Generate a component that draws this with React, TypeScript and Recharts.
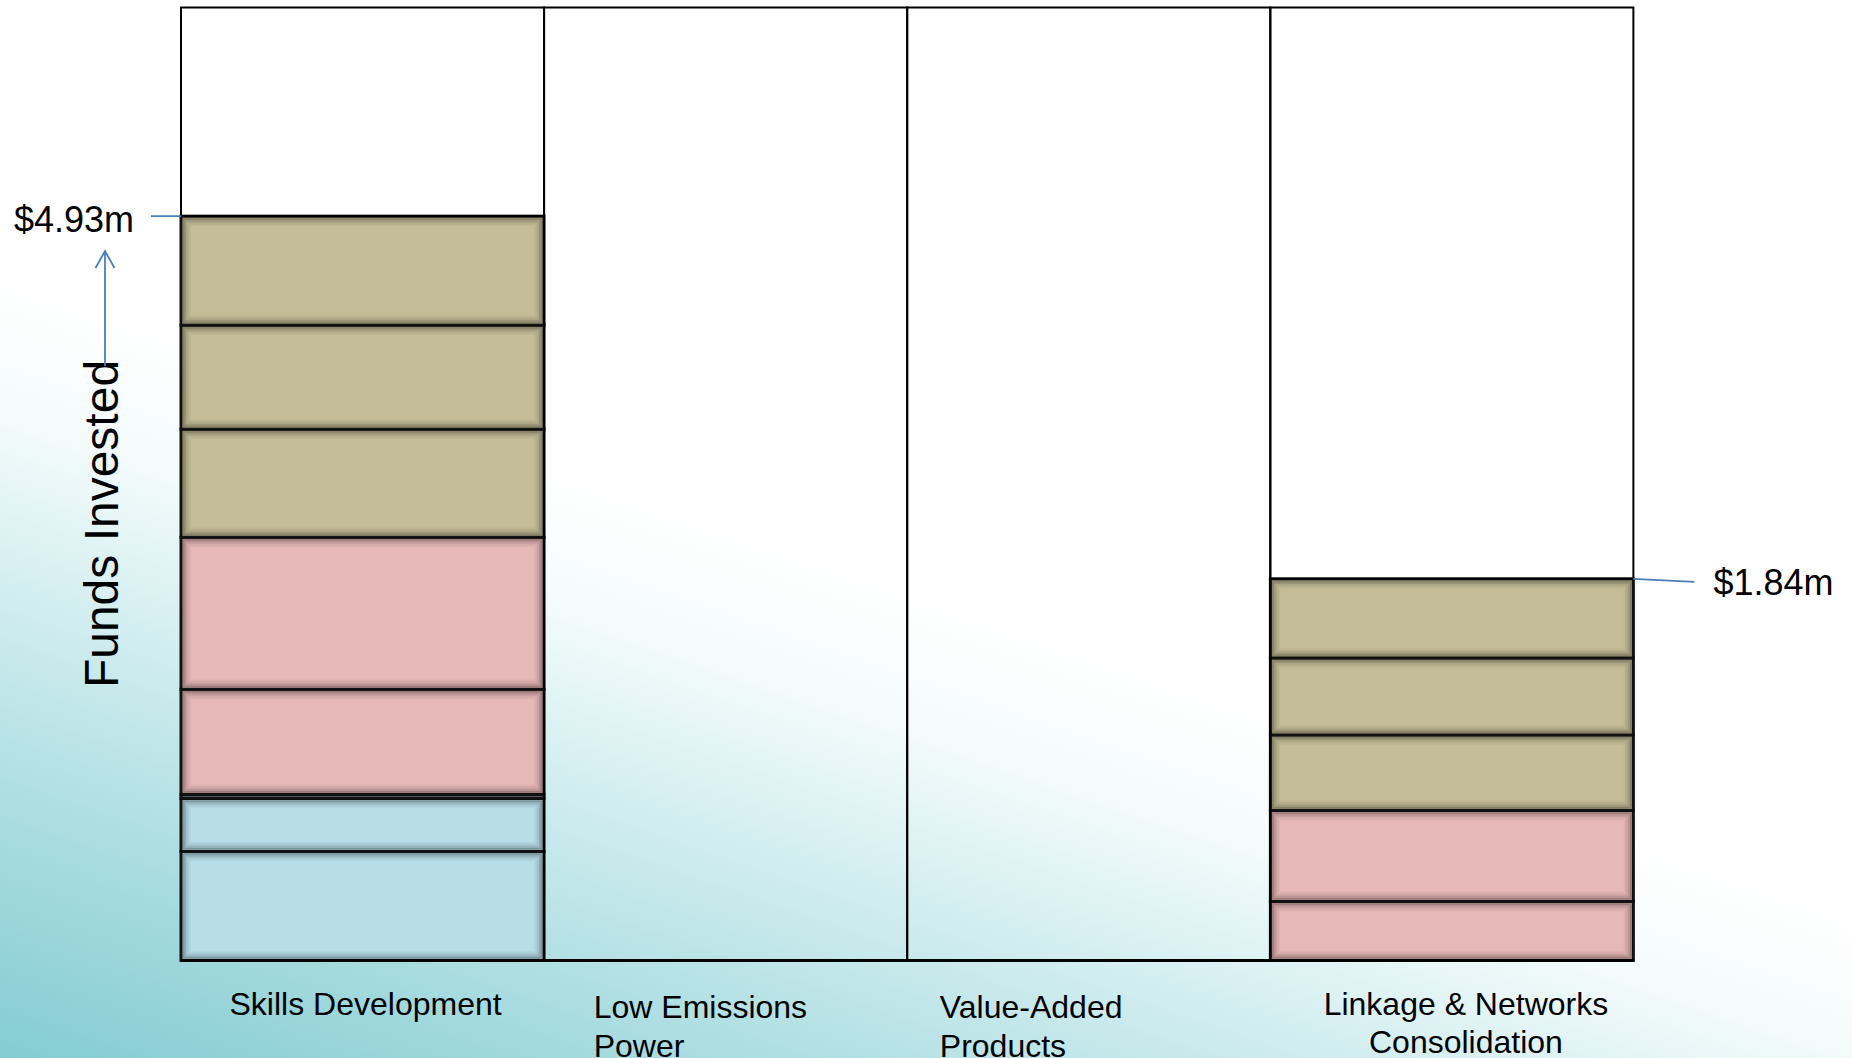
import { Bar, BarChart, LabelList, XAxis, YAxis } from "recharts";

// categories (line breaks are where the labels wrap in the picture)
const CATEGORIES = [
  "Skills Development",
  "Low Emissions\nPower",
  "Value-Added\nProducts",
  "Linkage & Networks\nConsolidation",
];

// stacked segments, bottom to top, in $m as drawn
const BLUE_LOWER = [0.722, 0, 0, 0];
const BLUE_UPPER = [0.351, 0, 0, 0];
const BLUE_PINK_GAP = [0.027, 0, 0, 0];
const PINK_LOWER = [0.696, 0, 0, 0.391];
const PINK_UPPER = [1.007, 0, 0, 0.603];
const TAN_LOWER = [0.716, 0, 0, 0.5];
const TAN_MIDDLE = [0.689, 0, 0, 0.51];
const TAN_UPPER = [0.722, 0, 0, 0.524];

const TOTAL_LABELS = ["$4.93m", "", "", "$1.84m"];
const AXIS_TITLE = "Funds Invested";
const Y_MAX = 6.312;

const TAN = "#c4bd97";
const PINK = "#e6b8b7";
const BLUE = "#b7dde8";
const GAP = "#4f5f64";
const CALLOUT = "#4a7ebb";
const FONT = '"Liberation Sans", Arial, sans-serif';

// label placement per category: anchor, x shift, baseline offsets below the axis
const TICK_LAYOUT = [
  { anchor: "middle", dx: 3, lines: [54] },
  { anchor: "start", dx: -132, lines: [57, 96] },
  { anchor: "start", dx: -149, lines: [57, 96] },
  { anchor: "middle", dx: 14, lines: [54, 92] },
];

const SEGMENT_KEYS = [
  ["blueLower", BLUE_LOWER, BLUE],
  ["blueUpper", BLUE_UPPER, BLUE],
  ["gap", BLUE_PINK_GAP, GAP],
  ["pinkLower", PINK_LOWER, PINK],
  ["pinkUpper", PINK_UPPER, PINK],
  ["tanLower", TAN_LOWER, TAN],
  ["tanMiddle", TAN_MIDDLE, TAN],
  ["tanUpper", TAN_UPPER, TAN],
] as const;

const data = CATEGORIES.map((name, i) => {
  const row: Record<string, number | string> = { name, totalLabel: TOTAL_LABELS[i] };
  let total = 0;
  for (const [key, values] of SEGMENT_KEYS) {
    row[key] = values[i];
    total += values[i];
  }
  row.rest = Y_MAX - total;
  return row;
});

// soft dark edge inside each segment, built from a few faint inset outlines
const GLOW_STEPS = [0.3, 0.2, 0.12, 0.07, 0.035];

function SegmentShape(props: any) {
  const { x, y, width, height, fill } = props;
  if (!height || height <= 0) return <g />;
  return (
    <g>
      <rect x={x} y={y} width={width} height={height} fill={fill} />
      {GLOW_STEPS.map((op, k) => {
        const inset = 2.5 + k * 1.6;
        if (height - 2 * inset <= 0) return null;
        return (
          <rect
            key={k}
            x={x + inset}
            y={y + inset}
            width={width - 2 * inset}
            height={height - 2 * inset}
            fill="none"
            stroke="#000"
            strokeOpacity={op}
            strokeWidth={1.8}
          />
        );
      })}
      <rect x={x} y={y} width={width} height={height} fill="none" stroke="#111" strokeWidth={3} />
    </g>
  );
}

function FrameShape(props: any) {
  const { x, y, width, height } = props;
  if (!height || height <= 0) return <g />;
  return <rect x={x} y={y} width={width} height={height} fill="none" stroke="#000" strokeWidth={2} />;
}

function TotalLabel(props: any) {
  const { x, y, width, value } = props;
  if (!value) return null;
  const onLeft = x + width / 2 < 926;
  if (onLeft) {
    return (
      <g>
        <line x1={x - 30} y1={y} x2={x} y2={y} stroke={CALLOUT} strokeWidth={1.8} />
        <text x={x - 47} y={y + 15.5} textAnchor="end" fontSize={36} fontFamily={FONT} fill="#000">
          {value}
        </text>
      </g>
    );
  }
  const right = x + width;
  return (
    <g>
      <line x1={right} y1={y} x2={right + 61} y2={y + 3} stroke={CALLOUT} strokeWidth={1.8} />
      <text x={right + 80} y={y + 16.5} textAnchor="start" fontSize={36} fontFamily={FONT} fill="#000">
        {value}
      </text>
    </g>
  );
}

function CategoryTick(props: any) {
  const { x, y, payload } = props;
  const i = CATEGORIES.indexOf(payload.value);
  const layout = TICK_LAYOUT[i] ?? TICK_LAYOUT[0];
  const lines = String(payload.value).split("\n");
  return (
    <g>
      {lines.map((line, k) => (
        <text
          key={k}
          x={x + layout.dx}
          y={y + layout.lines[k]}
          textAnchor={layout.anchor as any}
          fontSize={32}
          fontFamily={FONT}
          fill="#000"
        >
          {line}
        </text>
      ))}
    </g>
  );
}

// axis title with the upward arrow, drawn over the chart's left margin
function AxisTitle() {
  return (
    <svg
      width={181}
      height={1058}
      style={{ position: "absolute", left: 0, top: 0, pointerEvents: "none" }}
    >
      <text
        transform="translate(118,524) rotate(-90)"
        textAnchor="middle"
        fontSize={48}
        fontFamily={FONT}
        fill="#000"
      >
        {AXIS_TITLE}
      </text>
      <line x1={105} y1={366} x2={105} y2={252} stroke={CALLOUT} strokeWidth={1.8} />
      <polyline points="95.5,268 105,251 114.5,268" fill="none" stroke={CALLOUT} strokeWidth={1.8} />
    </svg>
  );
}

export default function App() {
  return (
    <div
      style={{
        position: "absolute",
        left: 0,
        top: 0,
        width: 1852,
        height: 1058,
        background:
          "linear-gradient(19deg, #84ccd2 0%, #a9dce0 14%, #d3eef0 28%, #f4fbfb 38%, #ffffff 46%)",
      }}
    >
      <BarChart
        width={1852}
        height={1058}
        data={data}
        margin={{ top: 7.5, right: 218.5, bottom: 0, left: 181 }}
        barCategoryGap={0}
        barGap={0}
      >
        <XAxis
          dataKey="name"
          height={97.5}
          interval={0}
          tickLine={false}
          tickSize={0}
          tickMargin={0}
          axisLine={{ stroke: "#000", strokeWidth: 3 }}
          tick={<CategoryTick />}
        />
        <YAxis type="number" domain={[0, Y_MAX]} hide />
        {SEGMENT_KEYS.map(([key, , color]) => (
          <Bar
            key={key}
            dataKey={key}
            stackId="funds"
            fill={color}
            shape={<SegmentShape />}
            isAnimationActive={false}
          >
            {key === "tanUpper" ? <LabelList dataKey="totalLabel" content={<TotalLabel />} /> : null}
          </Bar>
        ))}
        <Bar dataKey="rest" stackId="funds" fill="none" shape={<FrameShape />} isAnimationActive={false} />
      </BarChart>
      <AxisTitle />
    </div>
  );
}
